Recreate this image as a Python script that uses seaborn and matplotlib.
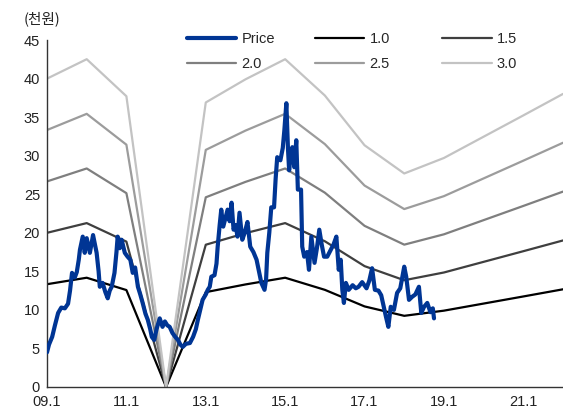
import pandas as pd
import seaborn as sns
import matplotlib.pyplot as plt
from matplotlib.lines import Line2D

# === Données ===
# BPS annuel (milliers de won), sommets des bandes au 1er janvier
bps_years = [2009, 2010, 2011, 2012, 2013, 2014, 2015, 2016, 2017, 2018, 2019, 2020, 2021, 2022]
bps_values = [13.33, 14.17, 12.57, 0.0, 12.3, 13.3, 14.17, 12.6, 10.45, 9.23, 9.9, 10.82, 11.74, 12.67]
multiples = [1.0, 1.5, 2.0, 2.5, 3.0]

# Cours
price_t = [
    2009.00, 2009.05, 2009.13, 2009.20, 2009.28, 2009.36, 2009.45, 2009.53, 2009.58, 2009.63,
    2009.70, 2009.75, 2009.80, 2009.83, 2009.90, 2009.95, 2010.00, 2010.08, 2010.16, 2010.25,
    2010.30, 2010.33, 2010.40, 2010.47, 2010.53, 2010.58, 2010.63, 2010.70, 2010.75, 2010.78,
    2010.83, 2010.88, 2010.96, 2011.03, 2011.10, 2011.16, 2011.22, 2011.29, 2011.35, 2011.41,
    2011.48, 2011.54, 2011.60, 2011.64, 2011.70, 2011.76, 2011.84, 2011.91, 2011.97, 2012.03,
    2012.09, 2012.16, 2012.23, 2012.30, 2012.36, 2012.42, 2012.50, 2012.60, 2012.68, 2012.75,
    2012.80, 2012.86, 2012.92, 2013.00, 2013.05, 2013.10, 2013.14, 2013.22, 2013.27, 2013.30,
    2013.35, 2013.39, 2013.44, 2013.50, 2013.55, 2013.60, 2013.65, 2013.70, 2013.75, 2013.80,
    2013.85, 2013.92, 2013.98, 2014.05, 2014.12, 2014.20, 2014.28, 2014.34, 2014.40, 2014.48,
    2014.52, 2014.55, 2014.60, 2014.65, 2014.72, 2014.76, 2014.80, 2014.88, 2014.94, 2014.98,
    2015.03, 2015.07, 2015.10, 2015.14, 2015.18, 2015.23, 2015.28, 2015.32, 2015.40, 2015.43,
    2015.48, 2015.55, 2015.60, 2015.66, 2015.74, 2015.80, 2015.86, 2015.92, 2015.98, 2016.06,
    2016.15, 2016.22, 2016.29, 2016.35, 2016.40, 2016.44, 2016.48, 2016.53, 2016.60, 2016.70,
    2016.78, 2016.85, 2016.94, 2017.05, 2017.12, 2017.19, 2017.26, 2017.35, 2017.42, 2017.48,
    2017.54, 2017.60, 2017.66, 2017.74, 2017.82, 2017.90, 2018.00, 2018.05, 2018.12, 2018.20,
    2018.28, 2018.37, 2018.43, 2018.50, 2018.58, 2018.66, 2018.72, 2018.75,
]
price_v = [
    4.5, 5.5, 6.5, 8.0, 9.6, 10.3, 10.2, 10.8, 12.5, 14.8,
    14.2, 14.9, 16.5, 17.8, 19.5, 17.4, 19.3, 17.4, 19.7, 17.4,
    15.0, 13.0, 13.5, 12.3, 11.5, 12.5, 13.0, 14.8, 17.5, 19.5,
    18.0, 19.1, 17.4, 16.9, 16.5, 14.8, 15.5, 13.0, 12.0, 10.9,
    9.5, 8.7, 7.5, 6.5, 6.1, 7.5, 8.9, 7.8, 8.5, 8.0,
    7.8, 7.0, 6.5, 6.1, 5.5, 5.2, 5.6, 5.7, 6.5, 7.5,
    8.7, 10.0, 11.3, 12.0, 12.6, 13.0, 14.3, 14.5, 16.0, 18.2,
    21.0, 23.0, 20.8, 22.0, 23.0, 21.5, 23.9, 20.4, 21.0, 19.5,
    22.6, 19.1, 20.0, 21.4, 18.2, 17.5, 16.5, 15.0, 13.5, 12.6,
    14.0, 17.4, 20.0, 23.3, 23.3, 27.0, 29.8, 29.4, 31.0, 33.3,
    36.8, 31.0, 28.1, 30.0, 31.1, 28.5, 32.0, 25.6, 25.6, 18.2,
    16.9, 17.5, 15.2, 19.5, 16.1, 18.0, 20.4, 18.5, 16.9, 16.9,
    17.8, 18.5, 19.5, 15.2, 16.5, 12.6, 10.9, 13.5, 12.6, 13.2,
    12.8, 13.0, 13.6, 12.8, 13.8, 15.4, 12.6, 12.5, 11.9, 10.5,
    9.1, 7.8, 10.4, 10.0, 12.2, 12.8, 15.6, 14.3, 11.3, 11.7,
    12.0, 13.0, 9.6, 10.4, 10.9, 9.7, 10.2, 8.9,
]

xtick_pos = [2009, 2011, 2013, 2015, 2017, 2019, 2021]
xtick_labels = ["09.1", "11.1", "13.1", "15.1", "17.1", "19.1", "21.1"]

band_colors = ["#000000", "#3f3f3f", "#7f7f7f", "#9c9c9c", "#c3c3c3"]
price_color = "#003594"

# === Graphique ===
sns.set_style("white")
plt.rcParams["font.family"] = ["Liberation Sans", "Noto Sans CJK KR", "DejaVu Sans"]

fig = plt.figure(figsize=(5.63, 4.12), dpi=100)
ax = fig.add_axes([0.0835, 0.0607, 0.9165, 0.8422])

df_bands = pd.DataFrame({
    "t": [y for m in multiples for y in bps_years],
    "v": [b * m for m in multiples for b in bps_values],
    "mult": [f"{m:.1f}" for m in multiples for _ in bps_years],
})
for mult, col in zip(multiples, band_colors):
    sub = df_bands[df_bands["mult"] == f"{mult:.1f}"]
    sns.lineplot(data=sub, x="t", y="v", color=col, linewidth=1.6,
                 estimator=None, ax=ax, zorder=2)

df_price = pd.DataFrame({"t": price_t, "v": price_v})
sns.lineplot(data=df_price, x="t", y="v", color=price_color, linewidth=3.0,
             estimator=None, ax=ax, zorder=3)

ax.set_xlim(2009, 2022)
ax.set_ylim(0, 45)
ax.set_yticks(range(0, 46, 5))
ax.set_xticks(xtick_pos)
ax.set_xticklabels(xtick_labels)
ax.set_xlabel("")
ax.set_ylabel("")
ax.tick_params(axis="both", direction="in", length=4, width=1, color="#333333",
               labelsize=10.5, labelcolor="#222222", pad=5)
ax.tick_params(axis="x", pad=6)

sns.despine(ax=ax)
for s in ["left", "bottom"]:
    ax.spines[s].set_color("#333333")
    ax.spines[s].set_linewidth(1)

ax.text(-0.045, 1.04, "(천원)", transform=ax.transAxes, fontsize=10.5,
        family=["Noto Sans CJK KR", "DejaVu Sans"], color="#222222",
        ha="left", va="bottom")

# Légende : 3 colonnes à pas fixe, une légende par colonne
handles = [Line2D([0], [0], color=price_color, lw=3.0)]
handles += [Line2D([0], [0], color=c, lw=1.6) for c in band_colors]
labels = ["Price"] + [f"{m:.1f}" for m in multiples]
col_x = [0.271, 0.519, 0.766]
for j, x0 in enumerate(col_x):
    idx = [j, j + 3]
    leg = ax.legend([handles[i] for i in idx], [labels[i] for i in idx],
                    frameon=False, fontsize=10.5, handlelength=3.4,
                    handletextpad=0.35, labelspacing=0.76, borderpad=0,
                    borderaxespad=0, loc="upper left",
                    bbox_to_anchor=(x0, 1.022))
    if j < len(col_x) - 1:
        ax.add_artist(leg)

fig.savefig("out.png", dpi=100)
